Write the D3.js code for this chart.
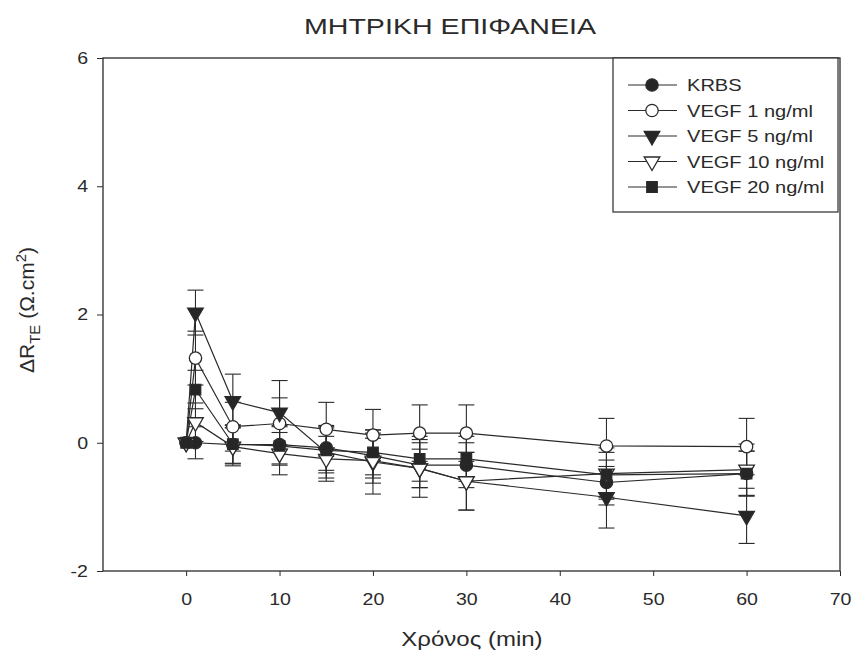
<!DOCTYPE html>
<html>
<head>
<meta charset="utf-8">
<script src="https://cdn.jsdelivr.net/npm/d3@7"></script>
<style>
  html, body { margin: 0; padding: 0; background: #fff; }
  svg { display: block; font-family: "Liberation Sans", Arial, sans-serif; }
</style>
</head>
<body>
<svg id="chart" width="854" height="659"></svg>
<script>
// Time points (min)
const times = [0, 1, 5, 10, 15, 20, 25, 30, 45, 60];

// ΔR_TE means and error bars per treatment
const krbs      = [0, 0, -0.03, -0.03, -0.08, -0.2, -0.35, -0.35, -0.62, -0.48];
const krbsErr   = [0, 0.25, 0.3, 0.3, 0.35, 0.35, 0.35, 0.35, 0.35, 0.35];
const vegf1     = [0, 1.32, 0.25, 0.3, 0.21, 0.12, 0.15, 0.15, -0.05, -0.06];
const vegf1Err  = [0, 0.42, 0.38, 0.4, 0.42, 0.4, 0.44, 0.44, 0.43, 0.44];
const vegf5     = [0, 2.03, 0.65, 0.47, -0.15, -0.3, -0.4, -0.6, -0.85, -1.14];
const vegf5Err  = [0, 0.35, 0.42, 0.5, 0.4, 0.5, 0.45, 0.45, 0.48, 0.43];
const vegf10    = [0, 0.32, -0.06, -0.17, -0.25, -0.28, -0.4, -0.6, -0.48, -0.42];
const vegf10Err = [0, 0.3, 0.3, 0.33, 0.35, 0.35, 0.3, 0.45, 0.4, 0.4];
const vegf20    = [0, 0.83, -0.02, -0.05, -0.12, -0.15, -0.25, -0.25, -0.5, -0.48];
const vegf20Err = [0, 0.3, 0.3, 0.3, 0.35, 0.35, 0.35, 0.35, 0.35, 0.35];

const seriesNames = ["KRBS", "VEGF 1 ng/ml", "VEGF 5 ng/ml", "VEGF 10 ng/ml", "VEGF 20 ng/ml"];
const seriesShapes = ["circle", "circle", "triangle", "triangle", "square"];
const seriesFilled = [true, false, true, false, true];

const xTicks = [0, 10, 20, 30, 40, 50, 60, 70];
const yTicks = [-2, 0, 2, 4, 6];

const seriesValues = [krbs, vegf1, vegf5, vegf10, vegf20];
const seriesErrors = [krbsErr, vegf1Err, vegf5Err, vegf10Err, vegf20Err];

const svg = d3.select("#chart");
const ink = "#2a2a2a";
const fillDark = "#262626";

// Widen a text element horizontally by a factor, keeping its anchor
function widen(sel, k) {
  sel.each(function () {
    const w = this.getComputedTextLength();
    d3.select(this).attr("textLength", w * k).attr("lengthAdjust", "spacingAndGlyphs");
  });
}

const plot = { left: 103, right: 840, top: 58, bottom: 571 };

const x = d3.scaleLinear().domain([-8.9, 70]).range([plot.left, plot.right]);
const y = d3.scaleLinear().domain([-2, 6]).range([plot.bottom, plot.top]);

// Frame
svg.append("rect")
  .attr("x", plot.left).attr("y", plot.top)
  .attr("width", plot.right - plot.left).attr("height", plot.bottom - plot.top)
  .attr("fill", "none").attr("stroke", ink).attr("stroke-width", 1.3);

// Axes
const xAxis = svg.append("g")
  .attr("transform", `translate(0,${plot.bottom})`)
  .call(d3.axisBottom(x).tickValues(xTicks).tickSize(5).tickPadding(17).tickFormat(d => String(d)));
const yAxis = svg.append("g")
  .attr("transform", `translate(${plot.left},0)`)
  .call(d3.axisLeft(y).tickValues(yTicks).tickSize(6).tickPadding(9).tickFormat(d => String(d)));
[xAxis, yAxis].forEach(g => {
  g.select(".domain").remove();
  g.selectAll(".tick line").attr("stroke", ink).attr("stroke-width", 1);
  g.selectAll(".tick text").attr("fill", ink).style("font-size", "17px")
    .style("font-family", "Liberation Sans, Arial, sans-serif");
  widen(g.selectAll(".tick text"), 1.15);
});

// Marker drawing
const sym = {
  circle: d3.symbol().type(d3.symbolCircle).size(120),
  square: d3.symbol().type(d3.symbolSquare).size(110),
  triangle: d3.symbol().type(d3.symbolTriangle).size(105)
};
function drawMarker(g, shape, filled, cx, cy) {
  g.append("path")
    .attr("d", sym[shape]())
    .attr("transform", `translate(${cx},${cy})` + (shape === "triangle" ? " rotate(180)" : ""))
    .attr("fill", filled ? fillDark : "#fff")
    .attr("stroke", ink)
    .attr("stroke-width", 1.3);
}

const line = d3.line().x(d => x(d.t)).y(d => y(d.v));
const capHalf = 8;

// Series: error bars, connecting lines, markers
seriesValues.forEach((vals, i) => {
  const pts = times.map((t, j) => ({ t, v: vals[j], e: seriesErrors[i][j] }));
  const g = svg.append("g");
  pts.filter(p => p.e > 0).forEach(p => {
    const px = x(p.t), y1 = y(p.v + p.e), y2 = y(p.v - p.e);
    g.append("line").attr("x1", px).attr("x2", px).attr("y1", y1).attr("y2", y2)
      .attr("stroke", ink).attr("stroke-width", 1.1);
    [y1, y2].forEach(yy => g.append("line")
      .attr("x1", px - capHalf).attr("x2", px + capHalf).attr("y1", yy).attr("y2", yy)
      .attr("stroke", ink).attr("stroke-width", 1.1));
  });
  g.append("path").datum(pts).attr("d", line)
    .attr("fill", "none").attr("stroke", ink).attr("stroke-width", 1.2);
});
seriesValues.forEach((vals, i) => {
  const g = svg.append("g");
  times.forEach((t, j) => drawMarker(g, seriesShapes[i], seriesFilled[i], x(t), y(vals[j])));
});

// Legend
const lg = svg.append("g");
lg.append("rect").attr("x", 613).attr("y", 58).attr("width", 225).attr("height", 154)
  .attr("fill", "#fff").attr("stroke", ink).attr("stroke-width", 1.2);
seriesNames.forEach((name, i) => {
  const ly = 85 + i * 25.5;
  lg.append("line").attr("x1", 628).attr("x2", 677).attr("y1", ly).attr("y2", ly)
    .attr("stroke", ink).attr("stroke-width", 1.2);
  drawMarker(lg, seriesShapes[i], seriesFilled[i], 652, ly);
  const t = lg.append("text").attr("x", 687).attr("y", ly).attr("dy", "0.36em")
    .attr("fill", ink).style("font-size", "17px").text(name);
  widen(t, 1.18);
});

// Title and axis labels
const title = svg.append("text").attr("x", 450).attr("y", 34).attr("text-anchor", "middle")
  .attr("fill", ink).style("font-size", "22px").text("ΜΗΤΡΙΚΗ ΕΠΙΦΑΝΕΙΑ");
widen(title, 1.3);

const xl = svg.append("text").attr("x", 472).attr("y", 646).attr("text-anchor", "middle")
  .attr("fill", ink).style("font-size", "20px").text("Χρόνος (min)");
widen(xl, 1.2);

const yl = svg.append("text")
  .attr("transform", "translate(34,310) rotate(-90)")
  .attr("text-anchor", "middle").attr("fill", ink).style("font-size", "21px");
yl.append("tspan").text("ΔR");
yl.append("tspan").attr("dy", 6).style("font-size", "15px").text("TE");
yl.append("tspan").attr("dy", -6).text(" (Ω.cm");
yl.append("tspan").attr("dy", -8).style("font-size", "15px").text("2");
yl.append("tspan").attr("dy", 8).text(")");
</script>
</body>
</html>
